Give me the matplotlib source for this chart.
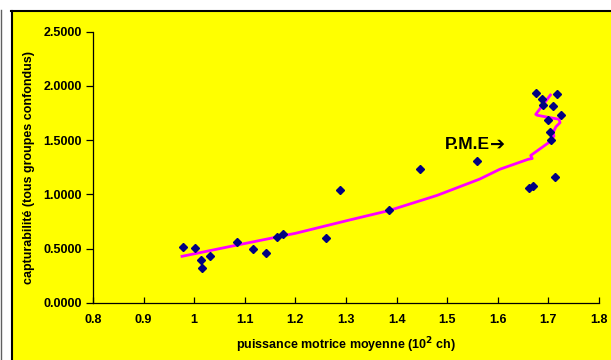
import matplotlib
matplotlib.use("Agg")
import matplotlib.pyplot as plt
from matplotlib.patches import Rectangle
from matplotlib.lines import Line2D

plt.rcParams['font.family'] = ['Liberation Sans', 'DejaVu Sans']

# Observed points (power, catchability)
power = [0.977, 1.001, 1.014, 1.016, 1.031, 1.085, 1.117, 1.141, 1.164, 1.176,
         1.260, 1.289, 1.385, 1.446, 1.558, 1.662, 1.669, 1.676, 1.687, 1.690,
         1.710, 1.717, 1.724, 1.700, 1.703, 1.705, 1.714]
catch = [0.511, 0.502, 0.397, 0.323, 0.428, 0.560, 0.495, 0.461, 0.609, 0.637,
         0.597, 1.040, 0.852, 1.231, 1.307, 1.061, 1.074, 1.937, 1.882, 1.827,
         1.817, 1.923, 1.734, 1.688, 1.577, 1.501, 1.157]

# Fitted line vertices
fit_x = [0.976, 1.085, 1.200, 1.307, 1.385, 1.480, 1.564, 1.604, 1.660, 1.668,
         1.665, 1.703, 1.711, 1.709, 1.715, 1.723, 1.721, 1.678, 1.675, 1.704]
fit_y = [0.428, 0.532, 0.640, 0.763, 0.850, 0.990, 1.140, 1.231, 1.323, 1.330,
         1.358, 1.485, 1.538, 1.568, 1.624, 1.661, 1.692, 1.729, 1.738, 1.916]

xticks = [0.8, 0.9, 1.0, 1.1, 1.2, 1.3, 1.4, 1.5, 1.6, 1.7, 1.8]
xtick_labels = ['0.8', '0.9', '1', '1.1', '1.2', '1.3', '1.4', '1.5', '1.6', '1.7', '1.8']
yticks = [0.0, 0.5, 1.0, 1.5, 2.0, 2.5]
ytick_labels = ['0.0000', '0.5000', '1.0000', '1.5000', '2.0000', '2.5000']

W, H = 611, 360
fig = plt.figure(figsize=(W / 100, H / 100), dpi=100, facecolor='white')

# yellow chart area with black left/top border
fig.patches.append(Rectangle((12 / W, 0), 1 - 12 / W, 1 - 11.5 / H,
                             transform=fig.transFigure, facecolor='#FFFF00',
                             edgecolor='none', zorder=-10))
fig.lines.append(Line2D([11.5 / W, 11.5 / W], [0, 1 - 10.5 / H], transform=fig.transFigure,
                        color='black', lw=1.5, zorder=-5))
fig.lines.append(Line2D([11 / W, 1], [1 - 10.5 / H, 1 - 10.5 / H], transform=fig.transFigure,
                        color='black', lw=1.5, zorder=-5))
fig.lines.append(Line2D([0.5 / W, 0.5 / W], [0, 1 - 10 / H], transform=fig.transFigure,
                        color='#606060', lw=1, zorder=-5))

ax = fig.add_axes([93 / W, 1 - 302.7 / H, (599 - 93) / W, (302.7 - 31.7) / H])
ax.set_facecolor('none')
ax.set_xlim(0.8, 1.8)
ax.set_ylim(0, 2.5)

ax.plot(fit_x, fit_y, color='#FF00FF', lw=2, zorder=2)
ax.plot(power, catch, linestyle='none', marker='D', markersize=4.5,
        color='#000080', markeredgecolor='#000080', zorder=3)

t = ax.text(1.495, 1.455, 'P.M.E', fontsize=12.5, fontweight='bold',
            ha='left', va='center')
ax.annotate('\u2794', xy=(1.0, 0.5), xycoords=t, fontsize=13, fontweight='bold',
            family=['DejaVu Sans'], ha='left', va='center')

for s in ['top', 'right']:
    ax.spines[s].set_visible(False)
for s in ['left', 'bottom']:
    ax.spines[s].set_color('black')
    ax.spines[s].set_linewidth(0.9)

ax.set_xticks(xticks)
ax.set_xticklabels(xtick_labels)
ax.set_yticks(yticks)
ax.set_yticklabels(ytick_labels)
ax.tick_params(axis='x', direction='in', length=4, width=0.9, labelsize=9, pad=8)
ax.tick_params(axis='y', direction='out', length=5, width=0.9, labelsize=9, pad=3)
for lab in ax.get_xticklabels() + ax.get_yticklabels():
    lab.set_fontweight('bold')

ax.set_xlabel('puissance motrice moyenne (10$^\\mathbf{2}$ ch)', fontsize=9, fontweight='bold', labelpad=7)
ax.set_ylabel('capturabilité (tous groupes confondus)', fontsize=9, fontweight='bold', labelpad=6)

fig.savefig('out.png', dpi=100, facecolor='white')
